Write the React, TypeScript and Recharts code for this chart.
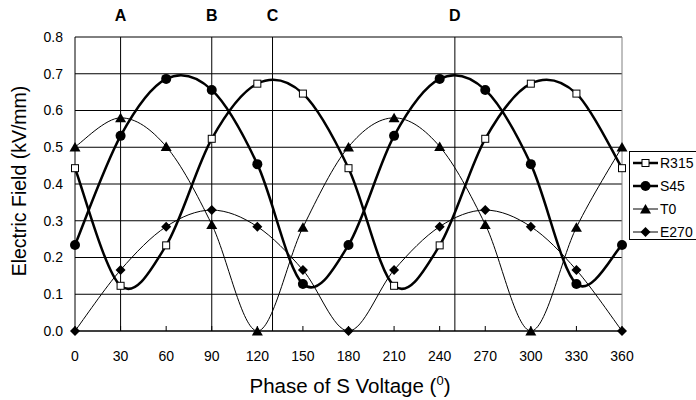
import { CartesianGrid, Legend, Line, LineChart, ReferenceLine, XAxis, YAxis } from "recharts"

const phases = [0, 30, 60, 90, 120, 150, 180, 210, 240, 270, 300, 330, 360]
const r315 = [0.443, 0.123, 0.233, 0.523, 0.673, 0.646, 0.443, 0.123, 0.233, 0.523, 0.673, 0.646, 0.443]
const s45 = [0.234, 0.531, 0.686, 0.656, 0.454, 0.128, 0.234, 0.531, 0.686, 0.656, 0.454, 0.128, 0.234]
const t0 = [0.501, 0.58, 0.502, 0.29, 0.0, 0.282, 0.501, 0.58, 0.502, 0.29, 0.0, 0.282, 0.501]
const e270 = [0.0, 0.166, 0.284, 0.329, 0.284, 0.166, 0.0, 0.166, 0.284, 0.329, 0.284, 0.166, 0.0]

const yTicks = [0, 0.1, 0.2, 0.3, 0.4, 0.5, 0.6, 0.7, 0.8]
const eventLabels = ["A", "B", "C", "D"]
const eventPhases = [30, 90, 130, 250]

const font = "'Liberation Sans', Arial, sans-serif"

const data = phases.map((p, i) => ({ phase: p, R315: r315[i], S45: s45[i], T0: t0[i], E270: e270[i] }))

// Excel-style smoothed line (cardinal spline, tension 0)
function excelSmooth(context: any) {
  let xs: number[] = []
  let ys: number[] = []
  return {
    areaStart() {},
    areaEnd() {},
    lineStart() {
      xs = []
      ys = []
    },
    point(x: number, y: number) {
      xs.push(+x)
      ys.push(+y)
    },
    lineEnd() {
      const n = xs.length
      if (!n) return
      context.moveTo(xs[0], ys[0])
      for (let i = 0; i < n - 1; i++) {
        const a = Math.max(i - 1, 0)
        const d = Math.min(i + 2, n - 1)
        context.bezierCurveTo(
          xs[i] + (xs[i + 1] - xs[a]) / 6,
          ys[i] + (ys[i + 1] - ys[a]) / 6,
          xs[i + 1] - (xs[d] - xs[i]) / 6,
          ys[i + 1] - (ys[d] - ys[i]) / 6,
          xs[i + 1],
          ys[i + 1]
        )
      }
    },
  }
}

const marker = (kind: string, cx: number, cy: number, key?: string) => {
  if (kind === "square")
    return <rect key={key} x={cx - 3.5} y={cy - 3.5} width={7} height={7} fill="#fff" stroke="#000" strokeWidth={1} />
  if (kind === "circle") return <circle key={key} cx={cx} cy={cy} r={5} fill="#000" />
  if (kind === "triangle")
    return <polygon key={key} points={`${cx},${cy - 5} ${cx + 5.5},${cy + 4.5} ${cx - 5.5},${cy + 4.5}`} fill="#000" />
  return <polygon key={key} points={`${cx},${cy - 5} ${cx + 5},${cy} ${cx},${cy + 5} ${cx - 5},${cy}`} fill="#000" />
}

const series = [
  { key: "R315", kind: "square", width: 2.5 },
  { key: "S45", kind: "circle", width: 2.5 },
  { key: "T0", kind: "triangle", width: 1 },
  { key: "E270", kind: "diamond", width: 1 },
]

const XTick = (props: any) => {
  const { x, y, payload } = props
  return (
    <g>
      <line x1={x} x2={x} y1={y} y2={y - 5} stroke="#000" />
      <text x={x} y={y + 30} textAnchor="middle" fontSize={14} fontFamily={font} fill="#000">
        {payload.value}
      </text>
    </g>
  )
}

const XTitle = () => (
  <text x={350} y={393} textAnchor="middle" fontSize={20.5} fontFamily={font} fill="#000">
    Phase of S Voltage (<tspan dy={-8} fontSize={13}>0</tspan>
    <tspan dy={8}>)</tspan>
  </text>
)

const YTitle = () => (
  <text x={26} y={181} textAnchor="middle" fontSize={19.5} fontFamily={font} fill="#000" transform="rotate(-90 26 181)">
    Electric Field (kV/mm)
  </text>
)

const LegendBox = () => (
  <svg width={90} height={90} style={{ display: "block" }}>
    <rect x={0.5} y={0.5} width={100} height={88} fill="#fff" stroke="#000" />
    {series.map((s, i) => {
      const cy = 12 + i * 23
      return (
        <g key={s.key}>
          <line x1={4} x2={29} y1={cy} y2={cy} stroke="#000" strokeWidth={s.width} />
          {marker(s.kind, 16.5, cy)}
          <text x={31} y={cy + 5} fontSize={14} fontFamily={font} fill="#000">
            {s.key}
          </text>
        </g>
      )
    })}
  </svg>
)

export default function App() {
  return (
    <div style={{ position: "absolute", left: 0, top: 0, width: 696, height: 400, overflow: "hidden", background: "#fff" }}>
      <LineChart width={696} height={400} data={data} margin={{ top: 37, right: 74, bottom: 0, left: 0 }}>
        <CartesianGrid vertical={false} stroke="#000" strokeWidth={1} />
        <XAxis
          dataKey="phase"
          type="number"
          domain={[0, 360]}
          ticks={phases}
          height={69}
          tickSize={0}
          tickMargin={0}
          tickLine={false}
          axisLine={{ stroke: "#000" }}
          tick={<XTick />}
          label={<XTitle />}
        />
        <YAxis
          domain={[0, 0.8]}
          ticks={yTicks}
          width={75}
          tickSize={0}
          tickMargin={12}
          tickLine={false}
          axisLine={{ stroke: "#000" }}
          tickFormatter={(v: number) => v.toFixed(1)}
          tick={{ fill: "#000", fontSize: 14, fontFamily: font }}
          label={<YTitle />}
        />
        <ReferenceLine x={360} stroke="#808080" />
        {eventPhases.map((p, i) => (
          <ReferenceLine
            key={eventLabels[i]}
            x={p}
            stroke="#000"
            label={{ value: eventLabels[i], position: "top", offset: 16, fill: "#000", fontSize: 16, fontWeight: "bold", fontFamily: font }}
          />
        ))}
        {series.map((s) => (
          <Line
            key={s.key}
            dataKey={s.key}
            type={excelSmooth as any}
            stroke="#000"
            strokeWidth={s.width}
            isAnimationActive={false}
            dot={(p: any) => marker(s.kind, p.cx, p.cy, `${s.key}-${p.index}`)}
            activeDot={false}
          />
        ))}
        <Legend
          layout="vertical"
          align="center"
          verticalAlign="middle"
          content={<LegendBox />}
          wrapperStyle={{ left: 629, top: 151, width: 90, height: 90 }}
        />
      </LineChart>
    </div>
  )
}
